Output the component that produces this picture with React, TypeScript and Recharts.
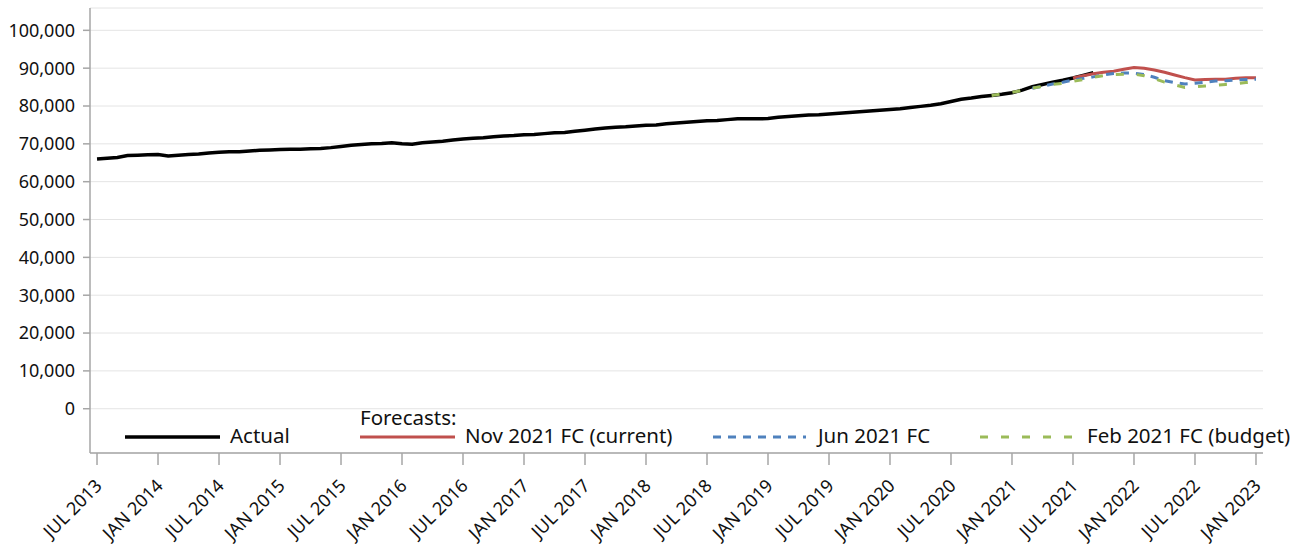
import React from 'react'
import { CartesianGrid, Line, LineChart, XAxis, YAxis } from 'recharts'

// half-yearly tick labels, one every 6 months starting JUL 2013
const xTickLabels = [
  'JUL 2013', 'JAN 2014', 'JUL 2014', 'JAN 2015', 'JUL 2015', 'JAN 2016', 'JUL 2016',
  'JAN 2017', 'JUL 2017', 'JAN 2018', 'JUL 2018', 'JAN 2019', 'JUL 2019', 'JAN 2020',
  'JUL 2020', 'JAN 2021', 'JUL 2021', 'JAN 2022', 'JUL 2022', 'JAN 2023'
]
const yTicks = [0, 10000, 20000, 30000, 40000, 50000, 60000, 70000, 80000, 90000, 100000]

// monthly actuals, JUL 2013 .. SEP 2021
const actualValues = [
  66000, 66200, 66400, 66900, 67000, 67100, 67200, 66800, 67000, 67200, 67300, 67600,
  67800, 67900, 67900, 68100, 68300, 68400, 68500, 68600, 68600, 68700, 68800, 69000,
  69300, 69600, 69800, 70000, 70100, 70300, 70000, 69900, 70300, 70500, 70700, 71000,
  71300, 71500, 71600, 71900, 72100, 72200, 72400, 72500, 72700, 72900, 73000, 73300,
  73600, 73900, 74200, 74400, 74500, 74700, 74900, 75000, 75300, 75500, 75700, 75900,
  76100, 76200, 76400, 76600, 76600, 76600, 76700, 77000, 77200, 77400, 77600, 77700,
  77900, 78100, 78300, 78500, 78700, 78900, 79100, 79300, 79600, 79900, 80200, 80600,
  81200, 81800, 82100, 82500, 82800, 83100, 83500, 84200, 85100, 85700, 86300, 86800,
  87400, 88100, 88800
]
// forecasts, monthly, each from its own start month through JAN 2023
const nov2021Start = 96 // JUL 2021
const nov2021Fc = [
  87400, 88000, 88500, 88900, 89200, 89700, 90150, 89950, 89500, 88900, 88200, 87500,
  86900, 87000, 87050, 87100, 87350, 87450, 87450
]
const jun2021Start = 92 // MAR 2021
const jun2021Fc = [
  84700, 85200, 85800, 86300, 86900, 87300, 87700, 88200, 88600, 88700, 88700, 88300,
  87600, 86700, 86200, 85800, 86000, 86300, 86600, 86700, 86900, 87000, 87100
]
const feb2021Start = 88 // NOV 2020
const feb2021Fc = [
  82800, 83200, 83600, 84100, 84700, 85200, 85700, 86000, 86500, 87000, 87600, 88000,
  88300, 88400, 88400, 88000, 87200, 86300, 85600, 84900, 85100, 85300, 85500, 85700,
  85900, 86200, 86400
]

const COLORS = {
  actual: '#000000',
  nov: '#c0504d',
  jun: '#4f81bd',
  feb: '#9bbb59',
  axis: '#a6a6a6',
  grid: '#e4e4e4',
  text: '#111111'
}
const FONT = '"Noto Sans", "Open Sans", sans-serif'

const monthCount = (xTickLabels.length - 1) * 6 + 1
const data = Array.from({ length: monthCount }, (_, m) => ({
  m,
  actual: actualValues[m] ?? null,
  nov: nov2021Fc[m - nov2021Start] ?? null,
  jun: jun2021Fc[m - jun2021Start] ?? null,
  feb: feb2021Fc[m - feb2021Start] ?? null
}))
const xTicks = xTickLabels.map((_, i) => i * 6)

function XTick(props: { x?: number; y?: number; payload?: { value?: number } }) {
  const x = (props.x ?? 0) + 6
  const y = (props.y ?? 0) + 20
  const label = xTickLabels[(props.payload?.value ?? 0) / 6] || ''
  return (
    <text x={x} y={y} transform={`rotate(-45, ${x}, ${y})`} textAnchor="end" fill={COLORS.text} fontFamily={FONT} fontSize={18}>
      {label}
    </text>
  )
}

function LegendOverlay() {
  const items = [
    { x1: 125, x2: 220, tx: 230, label: 'Actual', color: COLORS.actual, width: 3.5, dash: undefined },
    { x1: 360, x2: 455, tx: 465, label: 'Nov 2021 FC (current)', color: COLORS.nov, width: 3, dash: undefined },
    { x1: 713, x2: 806, tx: 818, label: 'Jun 2021 FC', color: COLORS.jun, width: 3, dash: '8 7' },
    { x1: 980, x2: 1076, tx: 1087, label: 'Feb 2021 FC (budget)', color: COLORS.feb, width: 3, dash: '8 13' }
  ]
  return (
    <svg width={1302} height={544} style={{ position: 'absolute', left: 0, top: 0, pointerEvents: 'none' }}>
      <text x={360} y={425} fontFamily={FONT} fontSize={20.5} fill={COLORS.text}>Forecasts:</text>
      {items.map((it) => (
        <g key={it.label}>
          <line x1={it.x1} x2={it.x2} y1={437} y2={437} stroke={it.color} strokeWidth={it.width} strokeDasharray={it.dash} />
          <text x={it.tx} y={443} fontFamily={FONT} fontSize={20.5} fill={COLORS.text}>{it.label}</text>
        </g>
      ))}
    </svg>
  )
}

export default function App() {
  return (
    <div style={{ position: 'absolute', left: 0, top: 0, width: 1302, height: 544, background: '#fff' }}>
      <LineChart width={1302} height={544} data={data} margin={{ top: 8, right: 39, bottom: 0, left: 0 }}>
        <CartesianGrid vertical={false} stroke={COLORS.grid} strokeWidth={1} />
        <XAxis
          dataKey="m"
          type="number"
          domain={[-0.69, monthCount - 1 + 0.69]}
          ticks={xTicks}
          interval={0}
          height={91}
          tickSize={12}
          tick={<XTick />}
          axisLine={{ stroke: COLORS.axis, strokeWidth: 1.5 }}
          tickLine={{ stroke: COLORS.axis, strokeWidth: 1.5 }}
          allowDataOverflow
        />
        <YAxis
          type="number"
          domain={[-11700, 105900]}
          ticks={yTicks}
          width={90}
          tickSize={7}
          tickMargin={8}
          tickFormatter={(v: number) => v.toLocaleString('en-US')}
          tick={{ fill: COLORS.text, fontFamily: FONT, fontSize: 18 }}
          axisLine={{ stroke: COLORS.axis, strokeWidth: 1.5 }}
          tickLine={{ stroke: COLORS.axis, strokeWidth: 1.5 }}
          allowDataOverflow
        />
        <Line dataKey="actual" stroke={COLORS.actual} strokeWidth={3.5} dot={false} activeDot={false} isAnimationActive={false} />
        <Line dataKey="nov" stroke={COLORS.nov} strokeWidth={3} dot={false} activeDot={false} isAnimationActive={false} />
        <Line dataKey="jun" stroke={COLORS.jun} strokeWidth={3} strokeDasharray="8 7" dot={false} activeDot={false} isAnimationActive={false} />
        <Line dataKey="feb" stroke={COLORS.feb} strokeWidth={3} strokeDasharray="8 13" dot={false} activeDot={false} isAnimationActive={false} />
      </LineChart>
      <LegendOverlay />
    </div>
  )
}
